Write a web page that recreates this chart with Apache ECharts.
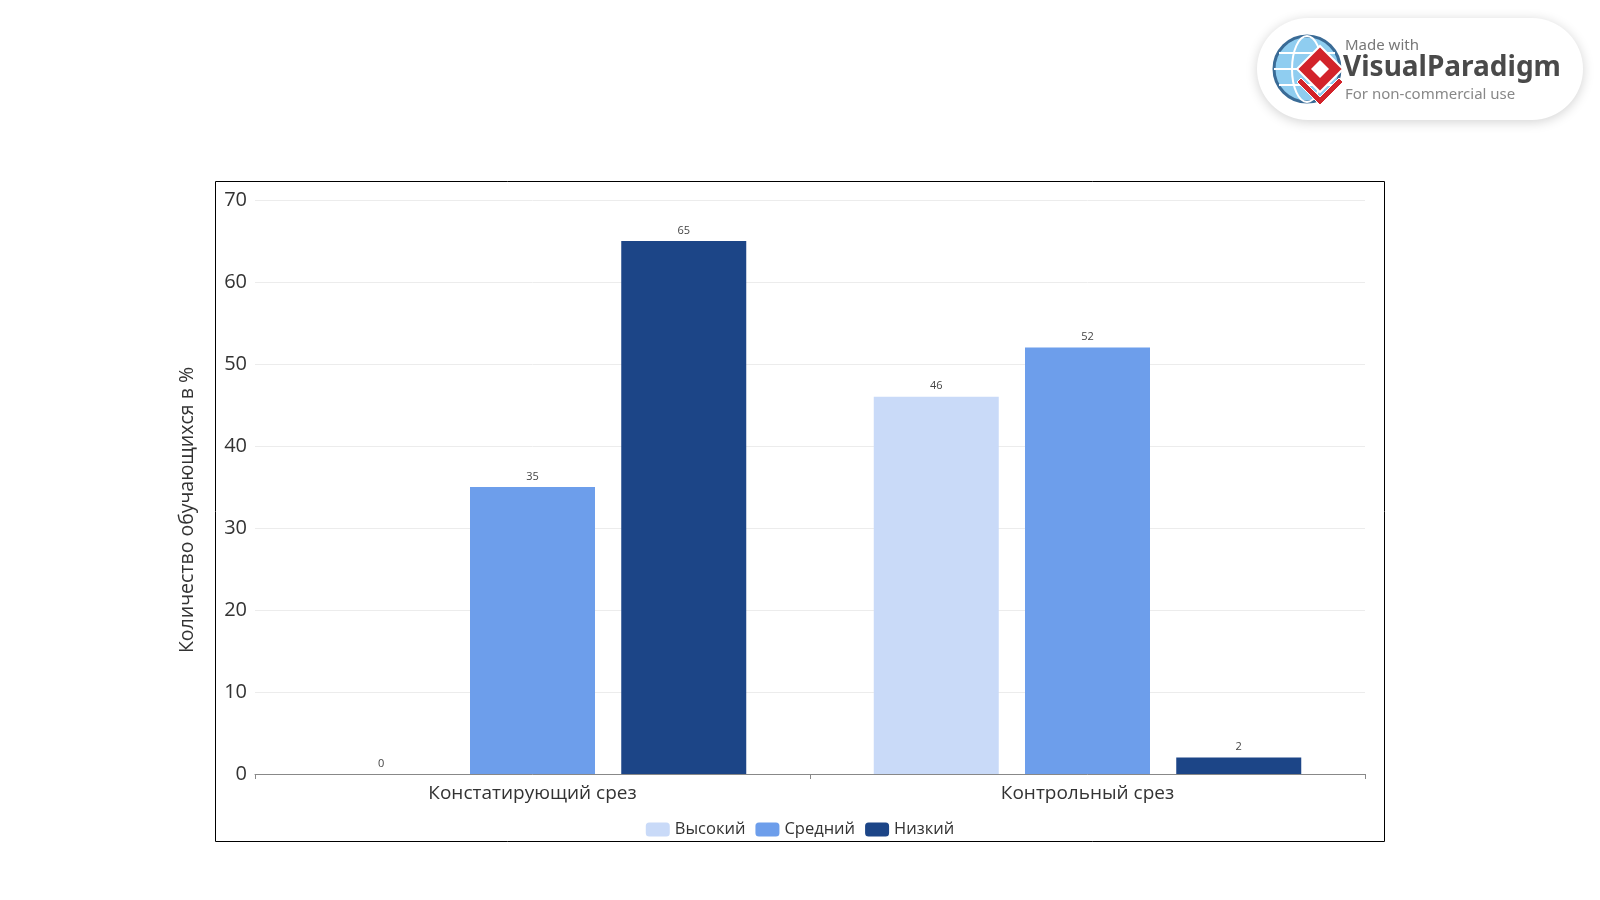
<!DOCTYPE html>
<html>
<head>
<meta charset="utf-8">
<script src="https://cdn.jsdelivr.net/npm/echarts@6/dist/echarts.min.js"></script>
<style>
html,body{margin:0;padding:0;background:#fff;}
#c{width:1600px;height:900px;}
</style>
</head>
<body>
<div id="c"></div>
<script>
const categories = ['Констатирующий срез', 'Контрольный срез'];
const seriesNames = ['Высокий', 'Средний', 'Низкий'];
const highValues = [0, 46];
const midValues = [35, 52];
const lowValues = [65, 2];
const yTicks = [0, 10, 20, 30, 40, 50, 60, 70];
const colors = ['#c9daf8', '#6d9eeb', '#1c4587'];
const font = '"Open Sans", "Noto Sans", sans-serif';

const chart = echarts.init(document.getElementById('c'));
const mk = (name, data, color) => ({
  name, type: 'bar', data, barWidth: 125, barGap: '21%',
  itemStyle: { color },
  label: { show: true, position: 'top', color: '#444', fontSize: 11, fontFamily: font, distance: 5 }
});
chart.setOption({
  animation: false,
  textStyle: { fontFamily: font },
  grid: { left: 255, right: 235, top: 200, bottom: 126, containLabel: false },
  legend: {
    data: seriesNames, bottom: 57, left: 'center',
    itemWidth: 24, itemHeight: 14, itemGap: 10, icon: 'roundRect',
    textStyle: { fontSize: 16.5, color: '#333', fontFamily: font }
  },
  xAxis: {
    type: 'category', data: categories,
    axisLine: { lineStyle: { color: '#888' } },
    axisTick: { show: true, lineStyle: { color: '#888' }, length: 5 },
    axisLabel: { fontSize: 19, color: '#333', margin: 10, fontFamily: font }
  },
  yAxis: {
    type: 'value', min: yTicks[0], max: yTicks[yTicks.length - 1], interval: 10,
    name: 'Количество обучающихся в %', nameLocation: 'middle', nameGap: 58,
    nameTextStyle: { fontSize: 19.5, color: '#333', fontFamily: font, padding: [0, 46, 0, 0] },
    axisLine: { show: false }, axisTick: { show: false },
    axisLabel: { fontSize: 20, color: '#333', margin: 8, fontFamily: font },
    splitLine: { lineStyle: { color: '#ececec' } }
  },
  series: [
    mk(seriesNames[0], highValues, colors[0]),
    mk(seriesNames[1], midValues, colors[1]),
    mk(seriesNames[2], lowValues, colors[2])
  ],
  graphic: [
    { type: 'rect', shape: { x: 215.5, y: 181.5, width: 1169, height: 660 }, style: { fill: 'none', stroke: '#000', lineWidth: 1 }, silent: true },
    { type: 'group', left: 1257, top: 18, children: [
      { type: 'rect', shape: { x: 0, y: 0, width: 326, height: 102, r: 51 }, style: { fill: '#fff', shadowBlur: 12, shadowColor: 'rgba(0,0,0,0.18)', shadowOffsetY: 2 } },
      { type: 'circle', shape: { cx: 50, cy: 51, r: 33 }, style: { fill: '#8fcdf0', stroke: '#3a6b96', lineWidth: 3 } },
      { type: 'ellipse', shape: { cx: 50, cy: 51, rx: 15, ry: 33 }, style: { fill: 'none', stroke: '#fff', lineWidth: 2 } },
      { type: 'line', shape: { x1: 17, y1: 51, x2: 83, y2: 51 }, style: { stroke: '#fff', lineWidth: 2 } },
      { type: 'line', shape: { x1: 22, y1: 35, x2: 78, y2: 35 }, style: { stroke: '#fff', lineWidth: 2 } },
      { type: 'line', shape: { x1: 22, y1: 67, x2: 78, y2: 67 }, style: { stroke: '#fff', lineWidth: 2 } },
      { type: 'polygon', shape: { points: [[63, 28], [86, 51], [63, 74], [40, 51]] }, style: { fill: '#d2232a', stroke: '#fff', lineWidth: 2 } },
      { type: 'polygon', shape: { points: [[63, 42], [72, 51], [63, 60], [54, 51]] }, style: { fill: '#fff' } },
      { type: 'polygon', shape: { points: [[44, 60], [63, 79], [82, 60], [86, 64], [63, 87], [40, 64]] }, style: { fill: '#d2232a', stroke: '#fff', lineWidth: 1 } },
      { type: 'text', left: 88, top: 20, style: { text: 'Made with', fontSize: 15, fill: '#777', fontFamily: '"Noto Sans", sans-serif' } },
      { type: 'text', left: 86, top: 36, style: { text: 'VisualParadigm', fontSize: 28, fontWeight: 'bold', fill: '#4a4a4a', fontFamily: '"Noto Sans", sans-serif' } },
      { type: 'text', left: 88, top: 69, style: { text: 'For non-commercial use', fontSize: 15, fill: '#888', fontFamily: '"Noto Sans", sans-serif' } }
    ]}
  ]
});
</script>
</body>
</html>
